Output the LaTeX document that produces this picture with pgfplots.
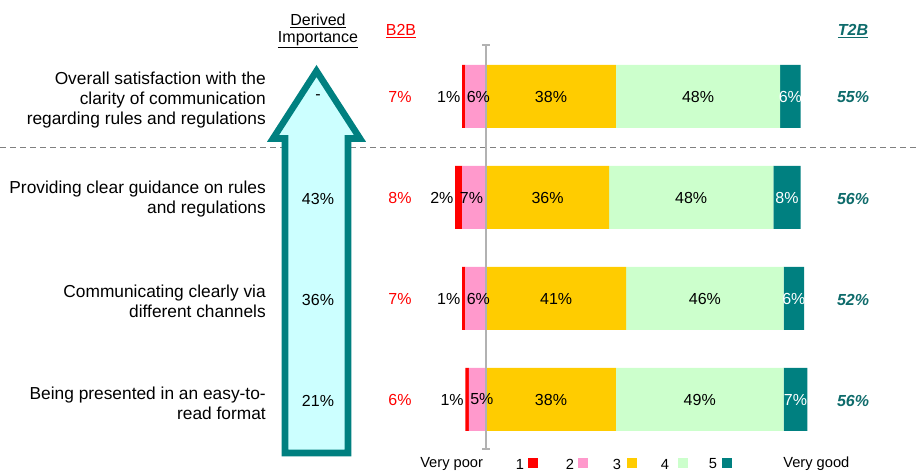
\documentclass[border=0pt]{standalone}
\usepackage{fontspec}
\setmainfont{Liberation Sans}
\usepackage{pgfplots}
\usepackage{pgfplotstable}
\pgfplotsset{compat=1.18}

\definecolor{c1}{HTML}{FF0000}
\definecolor{c2}{HTML}{FF99CC}
\definecolor{c3}{HTML}{FFCC00}
\definecolor{c4}{HTML}{CCFFCC}
\definecolor{c5}{HTML}{008080}
\definecolor{t2bcol}{HTML}{0E6B6B}
\definecolor{arrowfill}{HTML}{CCFFFF}

\newcommand\lab{\fontsize{13}{15}\selectfont}
\newcommand\val{\fontsize{12}{14}\selectfont}
\newcommand\leg{\fontsize{11}{13}\selectfont}

% rating shares per statement (1 = very poor ... 5 = very good)
\pgfplotstableread{
row red pink yellow green teal b2b t2b imp
0   1   6    38     48    6    7   55  0
1   2   7    36     48    8    8   56  43
2   1   6    41     46    6    7   52  36
3   1   5    38     49    7    6   56  21
}\ratings

\begin{document}
\begin{tikzpicture}
\begin{scope}[x=0.75pt,y=-0.75pt]
\path[use as bounding box] (0,0) rectangle (916,475);
\draw[gray, line width=0.75pt, dash pattern=on 4.5pt off 3pt] (0,147) -- (916,147);
\end{scope}

\begin{axis}[
	at={(0,0)}, anchor=north west,
	scale only axis,
	width=687pt, height=356.25pt,
	xbar stacked,
	bar width=0.6238,
	xmin=-142.105, xmax=125.731,
	ymin=-0.955, ymax=3.748,
	y dir=reverse,
	hide axis,
	every axis plot/.append style={draw=none},
]
	% negative values stack separately to the left of zero
	\addplot[fill=c2] table[x expr=-\thisrow{pink}, y=row]{\ratings};
	\addplot[fill=c1] table[x expr=-\thisrow{red}, y=row]{\ratings};
	\addplot[fill=c3] table[x=yellow, y=row]{\ratings};
	\addplot[fill=c4] table[x=green, y=row]{\ratings};
	\addplot[fill=c5] table[x=teal, y=row]{\ratings};
\end{axis}

\begin{scope}[x=0.75pt,y=-0.75pt, nodes={inner sep=0pt}]
% zero line
\draw[black!30, line width=1.1pt] (486,45) -- (486,449);
\draw[black!30, line width=1.1pt] (482,45) -- (490,45) (482,449) -- (490,449);

% derived importance arrow
\draw[draw=c5, fill=arrowfill, line width=4.9pt, line join=miter]
	(316.5,71) -- (360,138.5) -- (348,138.5) -- (348,453) -- (285,453)
	-- (285,138.5) -- (273,138.5) -- cycle;

% headers
\node[font=\val, align=center] at (318,31) {\underline{Derived}\\[-1pt]\underline{Importance}};
\node[font=\val, text=c1] at (401,31) {\underline{B2B}};
\node[font=\val\bfseries\itshape, text=t2bcol] at (853,31) {\underline{T2B}};

% statements
\node[anchor=east, align=right, font=\lab] at (266,100)
	{Overall satisfaction with the\\clarity of communication\\regarding rules and regulations};
\node[anchor=east, align=right, font=\lab] at (266,199)
	{Providing clear guidance on rules\\and regulations};
\node[anchor=east, align=right, font=\lab] at (266,301)
	{Communicating clearly via\\different channels};
\node[anchor=east, align=right, font=\lab] at (266,403)
	{Being presented in an easy-to-\\read format};

% values
\foreach \r in {0,...,3}{
	\pgfplotstablegetelem{\r}{red}\of\ratings \let\vr\pgfplotsretval
	\pgfplotstablegetelem{\r}{pink}\of\ratings \let\vp\pgfplotsretval
	\pgfplotstablegetelem{\r}{yellow}\of\ratings \let\vy\pgfplotsretval
	\pgfplotstablegetelem{\r}{green}\of\ratings \let\vg\pgfplotsretval
	\pgfplotstablegetelem{\r}{teal}\of\ratings \let\vt\pgfplotsretval
	\pgfplotstablegetelem{\r}{b2b}\of\ratings \let\vb\pgfplotsretval
	\pgfplotstablegetelem{\r}{t2b}\of\ratings \let\vtt\pgfplotsretval
	\pgfplotstablegetelem{\r}{imp}\of\ratings \let\vi\pgfplotsretval
	\pgfmathsetmacro\yy{96.5+101*\r}
	\pgfmathsetmacro\xl{486-3.42*(\vr+\vp)}
	\node[anchor=east, font=\val] at (\xl-1.5,\yy) {\vr\%};
	\node[anchor=west, font=\val] at (\xl+4.5,\yy) {\vp\%};
	\node[font=\val] at ({486+3.42*\vy/2},\yy) {\vy\%};
	\node[font=\val] at ({486+3.42*(\vy+\vg/2)},\yy) {\vg\%};
	\node[font=\val, text=white] at ({486+3.42*(\vy+\vg+\vt/2)},\yy) {\vt\%};
	\node[font=\val, text=c1] at (400,\yy) {\vb\%};
	\node[font=\val\bfseries\itshape, text=t2bcol] at (853,\yy+1) {\vtt\%};
	\ifnum\r=0
		\node[font=\val] at (318,\yy+1) {-};
	\else
		\node[font=\val] at (318,\yy+1) {\vi\%};
	\fi
}

% legend
\node[anchor=west, font=\leg] at (420,464) {Very poor};
\node[font=\leg] at (520,464) {1};
\fill[c1] (528,458) rectangle (538,468);
\node[font=\leg] at (570,464) {2};
\fill[c2] (578,458) rectangle (588,468);
\node[font=\leg] at (617,464) {3};
\fill[c3] (627,458) rectangle (637,468);
\node[font=\leg] at (665,464) {4};
\fill[c4] (678,458) rectangle (688,468);
\node[font=\leg] at (713,464) {5};
\fill[c5] (722,458) rectangle (732,468);
\node[anchor=west, font=\leg] at (783,464) {Very good};
\end{scope}
\end{tikzpicture}
\end{document}
